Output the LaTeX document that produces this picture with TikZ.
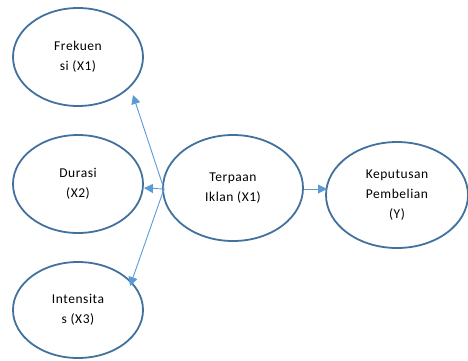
\documentclass[tikz,border=0pt]{standalone}
\usepackage{fontspec}
\setmainfont[LetterSpace=4]{Carlito}
\usetikzlibrary{shapes.geometric,arrows.meta}
\definecolor{ebord}{HTML}{41719C}
\definecolor{arr}{HTML}{5B9BD5}
\begin{document}
\begin{tikzpicture}[x=1pt,y=-1pt,
  var/.style={draw=ebord,line width=1.8pt,ellipse,inner sep=0pt,align=center,
    font=\fontsize{13.5}{20}\selectfont},
  conn/.style={draw=arr,line width=0.9pt,-{Triangle[length=9pt,width=9pt]}}]
\useasboundingbox (0,0) rectangle (468,360);
\node[var,minimum width=130,minimum height=98] (F) at (78,57) {Frekuen\\si (X1)};
\node[var,minimum width=130,minimum height=98] (D) at (78,184) {Durasi\\(X2)};
\node[var,minimum width=130,minimum height=96] (I) at (78,310) {Intensita\\s (X3)};
\node[var,minimum width=140,minimum height=106] (T) at (233,188) {Terpaan\\Iklan (X1)};
\node[var,minimum width=142,minimum height=106] (Y) at (397,195) {Keputusan\\Pembelian\\(Y)};
\coordinate (src) at (164,189);
\coordinate (fend) at (133,95);
\coordinate (iend) at (130,286);
\coordinate (dend) at (144,188);
\coordinate (tout) at (304,189);
\coordinate (yin) at (327,189);
\draw[conn] (src) -- (fend);
\draw[conn] (src) -- (dend);
\draw[conn] (src) -- (iend);
\draw[conn] (tout) -- (yin);
\end{tikzpicture}
\end{document}
